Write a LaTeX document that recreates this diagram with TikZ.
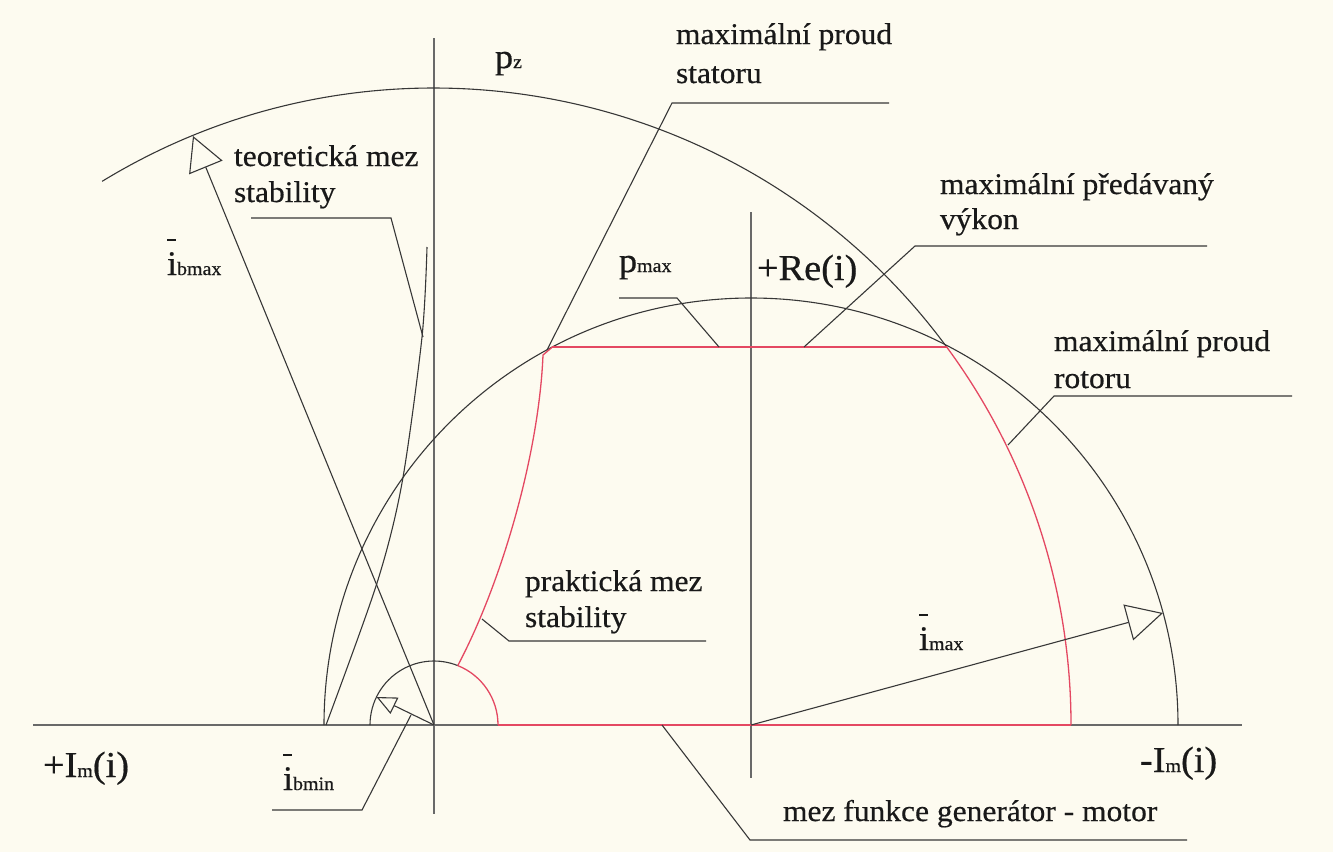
\documentclass[tikz,border=0pt]{standalone}
\usepackage{fontspec}
\setmainfont{Liberation Serif}[FakeStretch=1.05,FakeBold=0.5]
\usetikzlibrary{arrows.meta}
\definecolor{bg}{RGB}{253,251,240}
\definecolor{ln}{RGB}{55,55,55}
\definecolor{ax}{RGB}{105,105,105}
\definecolor{rd}{RGB}{228,72,98}
\definecolor{tx}{RGB}{25,25,25}
\newcommand\ivec{\leavevmode\rlap{\raisebox{1.0em}{\rule{0.26em}{0.045em}}}i}
\newcommand\sbs[1]{{\fontsize{19}{21}\selectfont #1}}
\begin{document}
\begin{tikzpicture}[x=1pt,y=-1pt,
  thinl/.style={draw=ln,line width=1.1pt},
  axisl/.style={draw=ax,line width=1.8pt},
  redl/.style={draw=rd,line width=1.3pt},
  leader/.style={draw=ln,line width=1.1pt},
  lbl/.style={anchor=base west,inner sep=0pt,outer sep=0pt,text=tx,font=\fontsize{30}{34}\selectfont},
  bigl/.style={anchor=base west,inner sep=0pt,outer sep=0pt,text=tx,font=\fontsize{36.5}{40}\selectfont},
  vecl/.style={anchor=base west,inner sep=0pt,outer sep=0pt,text=tx,font=\fontsize{34.5}{38}\selectfont}
]
\fill[bg] (0,0) rectangle (1333,852);
% key points
\coordinate (P) at (434,725);
\coordinate (O) at (751,725);
\coordinate (hL) at (33,725);
\coordinate (hR) at (1242,725);
\coordinate (vLt) at (434,38);
\coordinate (vLb) at (434,814);
\coordinate (vRt) at (751,212);
\coordinate (vRb) at (751,778);
% axes
\draw[axisl] (hL) -- (hR);
\draw[axisl] (vLt) -- (vLb);
\draw[axisl] (vRt) -- (vRb);
% big circle (rotor current limit), centre P
\draw[thinl] ([shift={(434,725)}]-121.4:637) arc[start angle=-121.4,end angle=-36.4,radius=637];
\draw[redl] ([shift={(434,725)}]-36.4:637) coordinate (Rtop) arc[start angle=-36.4,end angle=0,radius=637] coordinate (Rbot);
% stator circle, centre O
\draw[thinl] ([shift={(751,725)}]-180:427) coordinate (Sleft) arc[start angle=-180,end angle=0,radius=427];
% small circle
\draw[thinl] ([shift={(434,725)}]-180:64) arc[start angle=-180,end angle=-68.2,radius=64];
\draw[redl] ([shift={(434,725)}]-68.2:64) coordinate (Ssm) arc[start angle=-68.2,end angle=0,radius=64] coordinate (Ssr);
% red operating region
\coordinate (Tl) at (552.4,347);
\coordinate (Tr) at (946.7,347);
\draw[redl] (Tl) -- (Tr);
\draw[redl] (Ssr) -- (Rbot);
\draw[redl] (Ssm) .. controls (503,580) and (539,452) .. (543,355) -- (Tl);
% theoretical stability limit
\draw[thinl] plot[smooth] coordinates {(326,725) (377,583) (402,483) (422,337) (427,247)};
% vectors
\coordinate (Tbmax) at (193,136);
\coordinate (Tmax) at (1163,613);
\coordinate (Tbmin) at (376.5,697);
\draw[thinl,-{Triangle[open,length=34pt,width=36pt]}] (P) -- (Tbmax);
\draw[thinl,-{Triangle[open,length=36pt,width=37pt]}] (O) -- (Tmax);
\draw[thinl,-{Triangle[open,length=20pt,width=18pt]}] (P) -- (Tbmin);
% labels
\node[lbl] (stat1) at (676,44) {maximální proud};
\node[lbl] (stat2) at (676,83) {statoru};
\node[lbl] (teo1) at (234,166) {teoretická mez};
\node[lbl] (teo2) at (234,202) {stability};
\node[lbl] (pred1) at (940,194) {maximální předávaný};
\node[lbl] (pred2) at (940,229) {výkon};
\node[lbl] (rot1) at (1054,351) {maximální proud};
\node[lbl] (rot2) at (1054,388) {rotoru};
\node[lbl] (prak1) at (525,591) {praktická mez};
\node[lbl] (prak2) at (525,627) {stability};
\node[lbl] (mez) at (783,821) {mez funkce generátor - motor};
\node[bigl] (re) at (757,280) {+Re(i)};
\node[bigl] (imp) at (43,777) {+I\sbs{m}(i)};
\node[bigl] (imm) at (1140,772) {-I\sbs{m}(i)};
\node[vecl] (pz) at (495,68) {p\sbs{z}};
\node[vecl] (pmax) at (619,272) {p\sbs{max}};
\node[vecl] (ibmax) at (167,275) {\ivec\sbs{bmax}};
\node[vecl] (imax) at (919,650) {\ivec\sbs{max}};
\node[vecl] (ibmin) at (283,790) {\ivec\sbs{bmin}};
% leaders
\coordinate (a1) at (889,103); \coordinate (a2) at (672,103); \coordinate (a3) at (547,350);
\draw[leader] (a1) -- (a2) -- (a3);
\coordinate (b1) at (251,218); \coordinate (b2) at (391,218); \coordinate (b3) at (423,337);
\draw[leader] (b1) -- (b2) -- (b3);
\coordinate (c1) at (619,298); \coordinate (c2) at (677,298); \coordinate (c3) at (719,347);
\draw[leader] (c1) -- (c2) -- (c3);
\coordinate (d1) at (1207,246); \coordinate (d2) at (915,246); \coordinate (d3) at (804,347);
\draw[leader] (d1) -- (d2) -- (d3);
\coordinate (e1) at (1292,396); \coordinate (e2) at (1054,396); \coordinate (e3) at (1008,445);
\draw[leader] (e1) -- (e2) -- (e3);
\coordinate (f1) at (706,641); \coordinate (f2) at (509,641); \coordinate (f3) at (482,619);
\draw[leader] (f1) -- (f2) -- (f3);
\coordinate (g1) at (1187,840); \coordinate (g2) at (750,840); \coordinate (g3) at (662,725);
\draw[leader] (g1) -- (g2) -- (g3);
\coordinate (h1) at (272,810); \coordinate (h2) at (362,810); \coordinate (h3) at (411,715);
\draw[leader] (h1) -- (h2) -- (h3);
\end{tikzpicture}
\end{document}
